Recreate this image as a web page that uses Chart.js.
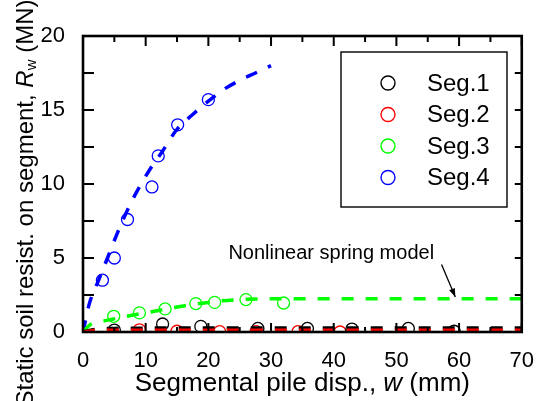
<!DOCTYPE html>
<html>
<head>
<meta charset="utf-8">
<script src="https://cdn.jsdelivr.net/npm/chart.js@4.4.1/dist/chart.umd.min.js"></script>
<style>
  html, body { margin: 0; padding: 0; background: #fff; }
  #wrap { width: 542px; height: 401px; position: relative; }
</style>
</head>
<body>
<div id="wrap"><canvas id="c" width="542" height="401"></canvas></div>
<script>
// Measured points: segmental displacement w (mm) and static soil resistance R_w (MN)
const seriesNames = ['Seg.1', 'Seg.2', 'Seg.3', 'Seg.4'];
const seriesColors = ['#000000', '#ff0000', '#00ff00', '#0000ff'];

const seg1W = [5, 12.7, 18.8, 27.9, 35.8, 42.9, 51.9, 59.2];
const seg1R = [0.13, 0.54, 0.38, 0.24, 0.24, 0.2, 0.24, 0.05];

const seg2W = [9, 15, 21.8, 27.6, 34.3, 41];
const seg2R = [0.15, 0.05, 0.02, 0.02, 0.02, 0.0];

const seg3W = [4.9, 9.0, 13.1, 18.0, 21.0, 26.0, 32.0];
const seg3R = [1.06, 1.29, 1.56, 1.92, 2.0, 2.19, 1.96];

const seg4W = [3.1, 5.0, 7.1, 11.0, 12.0, 15.1, 20.0];
const seg4R = [3.5, 5.0, 7.6, 9.8, 11.9, 14.0, 15.7];

// Nonlinear spring model curves
const model1W = [0, 2, 5, 10, 20, 30, 40, 50, 60, 70];
const model1R = [0, 0.18, 0.24, 0.26, 0.27, 0.27, 0.27, 0.27, 0.27, 0.27];

const model2W = [0, 2, 5, 10, 20, 30, 40, 50, 60, 70];
const model2R = [0, 0.1, 0.12, 0.12, 0.12, 0.12, 0.12, 0.12, 0.12, 0.12];

const model3W = [0, 1, 2, 4, 6, 8, 10, 12, 14, 16, 18, 20, 22, 25, 30, 40, 50, 60, 70];
const model3R = [0, 0.45, 0.62, 0.8, 0.98, 1.15, 1.3, 1.45, 1.6, 1.76, 1.89, 2.0, 2.1, 2.19, 2.24, 2.25, 2.25, 2.25, 2.25];

const model4W = [0, 1, 2.5, 4, 5.5, 7.5, 9, 11, 12.5, 15, 17.5, 20, 22.5, 25, 27.5, 30];
const model4R = [0, 1.9, 3.5, 5.1, 6.7, 8.6, 9.8, 11.2, 12.1, 13.7, 14.7, 15.6, 16.4, 17.0, 17.5, 18.0];

// Axis ticks
const xMajorTicks = [0, 10, 20, 30, 40, 50, 60, 70];
const xMinorTicks = [5, 15, 25, 35, 45, 55, 65];
const yMajorTicks = [0, 5, 10, 15, 20];
const yMinorTicks = [2.5, 7.5, 12.5, 17.5];

// Annotation text and its arrow (data coordinates)
const noteText = 'Nonlinear spring model';
const noteAt = { x: 23.2, y: 4.9 };
const arrowFrom = { x: 57.2, y: 4.56 };
const arrowTo = { x: 59.4, y: 2.37 };

const FONT = '"Liberation Sans", Arial, sans-serif';

function pairs(ws, rs) { return ws.map((w, i) => ({ x: w, y: rs[i] })); }

const pointSets = [[seg1W, seg1R], [seg2W, seg2R], [seg3W, seg3R], [seg4W, seg4R]];
const modelSets = [[model1W, model1R], [model2W, model2R], [model3W, model3R], [model4W, model4R]];

const datasets = [];
// model curves drawn above the symbols; red above black
const lineOrder = [1, 0, 2, 3];
modelSets.forEach((m, i) => {
  datasets.push({
    type: 'line',
    label: seriesNames[i] + ' model',
    data: pairs(m[0], m[1]),
    borderColor: seriesColors[i],
    borderWidth: 3.5,
    borderDash: [12, 12],
    borderCapStyle: 'butt',
    pointRadius: 0,
    fill: false,
    cubicInterpolationMode: 'monotone',
    clip: 0,
    order: lineOrder[i]
  });
});
pointSets.forEach((p, i) => {
  datasets.push({
    type: 'scatter',
    label: seriesNames[i],
    data: pairs(p[0], p[1]),
    showLine: false,
    borderColor: seriesColors[i],
    backgroundColor: 'rgba(0,0,0,0)',
    pointStyle: 'circle',
    pointRadius: 6,
    pointBorderWidth: 1.3,
    clip: 0,
    order: 10 + i
  });
});

function drawRich(ctx, parts, x, y, align) {
  // parts: [{t, font, dy}]
  let total = 0;
  parts.forEach(p => { ctx.font = p.font; total += ctx.measureText(p.t).width; });
  let cx = align === 'center' ? x - total / 2 : x;
  parts.forEach(p => {
    ctx.font = p.font;
    ctx.fillText(p.t, cx, y + (p.dy || 0));
    cx += ctx.measureText(p.t).width;
  });
}

const framePlugin = {
  id: 'frameAndNotes',
  afterDraw(chart) {
    const { ctx, chartArea: a, scales } = chart;
    const xs = scales.x, ys = scales.y;
    ctx.save();
    ctx.strokeStyle = '#000';
    ctx.fillStyle = '#000';

    // frame
    ctx.lineWidth = 2.6;
    ctx.strokeRect(a.left, a.top, a.right - a.left, a.bottom - a.top);

    // inward ticks
    ctx.lineWidth = 2;
    ctx.beginPath();
    xMajorTicks.forEach(v => {
      const px = xs.getPixelForValue(v);
      ctx.moveTo(px, a.bottom); ctx.lineTo(px, a.bottom - 9);
      ctx.moveTo(px, a.top); ctx.lineTo(px, a.top + 10);
    });
    xMinorTicks.forEach(v => {
      const px = xs.getPixelForValue(v);
      ctx.moveTo(px, a.bottom); ctx.lineTo(px, a.bottom - 5);
      ctx.moveTo(px, a.top); ctx.lineTo(px, a.top + 6);
    });
    yMajorTicks.concat(yMinorTicks).forEach(v => {
      const py = ys.getPixelForValue(v);
      ctx.moveTo(a.left, py); ctx.lineTo(a.left + 11, py);
      ctx.moveTo(a.right, py); ctx.lineTo(a.right - 7, py);
    });
    ctx.stroke();

    // legend
    const lx0 = 341, ly0 = 52, lw = 166, lh = 155;
    ctx.lineWidth = 1.4;
    ctx.strokeRect(lx0, ly0, lw, lh);
    ctx.font = '24px ' + FONT;
    ctx.textBaseline = 'middle';
    ctx.textAlign = 'left';
    seriesNames.forEach((name, i) => {
      const ry = ly0 + 31 + i * 31.5;
      ctx.beginPath();
      ctx.strokeStyle = seriesColors[i];
      ctx.lineWidth = 1.4;
      ctx.arc(lx0 + 47, ry, 7, 0, Math.PI * 2);
      ctx.stroke();
      ctx.fillStyle = '#000';
      ctx.fillText(name, lx0 + 86, ry + 1);
    });

    // annotation
    ctx.fillStyle = '#000';
    ctx.strokeStyle = '#000';
    ctx.font = '20px ' + FONT;
    ctx.textBaseline = 'alphabetic';
    ctx.fillText(noteText, xs.getPixelForValue(noteAt.x), ys.getPixelForValue(noteAt.y));
    const ax0 = xs.getPixelForValue(arrowFrom.x), ay0 = ys.getPixelForValue(arrowFrom.y);
    const ax1 = xs.getPixelForValue(arrowTo.x), ay1 = ys.getPixelForValue(arrowTo.y);
    ctx.lineWidth = 1.3;
    ctx.beginPath(); ctx.moveTo(ax0, ay0); ctx.lineTo(ax1, ay1); ctx.stroke();
    const ang = Math.atan2(ay1 - ay0, ax1 - ax0);
    const hl = 9, hw = 0.35;
    ctx.beginPath();
    ctx.moveTo(ax1, ay1);
    ctx.lineTo(ax1 - hl * Math.cos(ang - hw), ay1 - hl * Math.sin(ang - hw));
    ctx.lineTo(ax1 - hl * Math.cos(ang + hw), ay1 - hl * Math.sin(ang + hw));
    ctx.closePath();
    ctx.fill();

    // axis titles
    ctx.textBaseline = 'middle';
    ctx.textAlign = 'left';
    drawRich(ctx, [
      { t: 'Segmental pile disp., ', font: '26px ' + FONT },
      { t: 'w', font: 'italic 26px ' + FONT },
      { t: ' (mm)', font: '26px ' + FONT }
    ], (a.left + a.right) / 2, 384, 'center');

    ctx.save();
    ctx.translate(26, 203);
    ctx.rotate(-Math.PI / 2);
    drawRich(ctx, [
      { t: 'Static soil resist. on segment, ', font: '24px ' + FONT },
      { t: 'R', font: 'italic 24px ' + FONT },
      { t: 'w', font: '15px ' + FONT, dy: 6 },
      { t: ' (MN)', font: '24px ' + FONT }
    ], 0, 0, 'center');
    ctx.restore();

    ctx.restore();
  }
};

new Chart(document.getElementById('c'), {
  type: 'scatter',
  data: { datasets },
  options: {
    responsive: false,
    animation: false,
    devicePixelRatio: 1,
    layout: { padding: { left: 0, right: 15, top: 36, bottom: 0 } },
    plugins: { legend: { display: false }, tooltip: { enabled: false } },
    scales: {
      x: {
        type: 'linear', min: 0, max: 70,
        grid: { display: false }, border: { display: false },
        ticks: { stepSize: 10, color: '#000', font: { family: FONT, size: 22 }, padding: 8, maxRotation: 0 },
        afterFit(s) { s.height = 69; }
      },
      y: {
        type: 'linear', min: 0, max: 20,
        grid: { display: false }, border: { display: false },
        ticks: { stepSize: 5, color: '#000', font: { family: FONT, size: 22 }, padding: 10 },
        afterFit(s) { s.width = 83; }
      }
    }
  },
  plugins: [framePlugin]
});
</script>
</body>
</html>
